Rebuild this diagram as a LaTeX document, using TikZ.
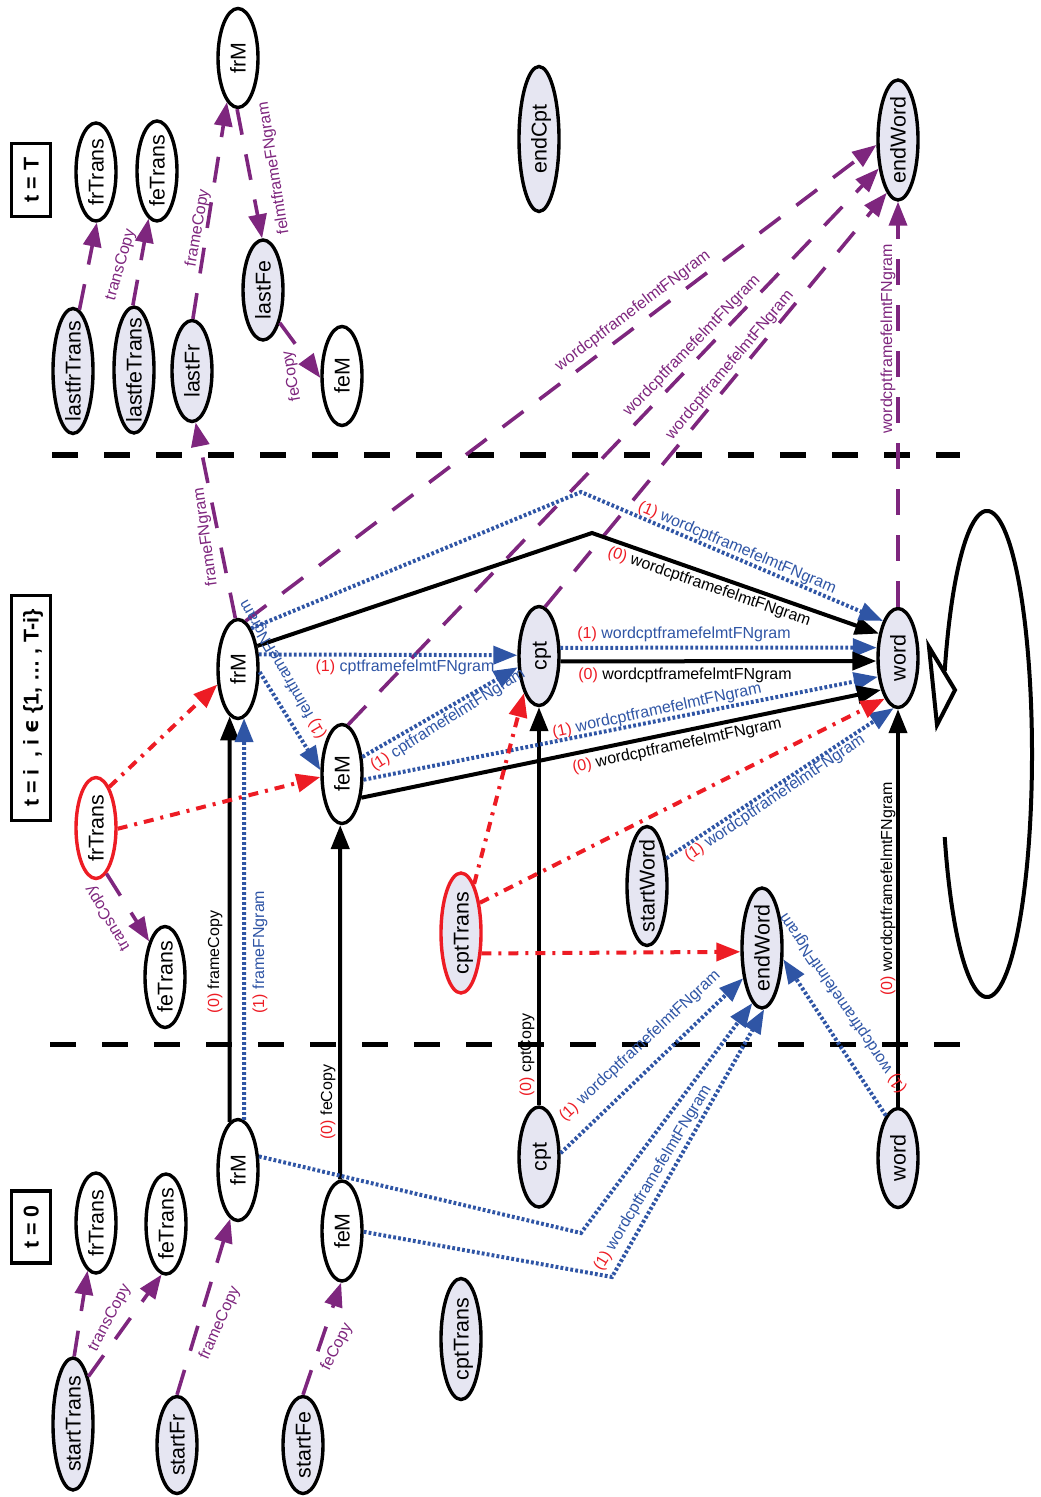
\documentclass[tikz,border=0pt]{standalone}
\usepackage{graphicx}
\usepackage{fontspec}
\setmainfont{Liberation Sans}
\newfontfamily\dejavu{DejaVu Sans}
\usetikzlibrary{shapes.geometric,arrows.meta}
\definecolor{cpur}{RGB}{126,38,126}
\definecolor{cblu}{RGB}{47,85,165}
\definecolor{cred}{RGB}{237,28,36}
\definecolor{ngray}{RGB}{230,230,242}
\newcommand\nodefont{\fontsize{10.7}{12}\selectfont}
\newcommand\lblfont{\fontsize{8}{9.6}\selectfont}
\newcommand\labone{\textcolor{cred}{(1)}}
\newcommand\labzero{\textcolor{cred}{(0)}}
\newcommand\rtext[1]{\rotatebox{90}{\makebox[0pt]{\smash{\raisebox{-0.36em}{#1}}}}}
\tikzset{
  nd/.style={ellipse, draw=black, line width=1.7pt, fill=white, inner sep=0pt, minimum width=20pt, font=\nodefont},
  gnd/.style={nd, fill=ngray},
  tbox/.style={rectangle, draw=black, line width=1.6pt, fill=white, inner sep=0pt, minimum width=19.5pt, font=\nodefont\bfseries},
  lbl/.style={inner sep=0pt, font=\lblfont},
  arrowtip/.style={-{Triangle[length=12pt,width=9pt]}},
  pur/.style={arrowtip, draw=cpur, line width=1.8pt, dash pattern=on 13pt off 10pt},
  blu/.style={arrowtip, draw=cblu, line width=2pt, dash pattern=on 1.4pt off 1.1pt},
  blk/.style={arrowtip, draw=black, line width=2pt},
  rdd/.style={arrowtip, draw=cred, line width=2pt, dash pattern=on 5pt off 3.5pt on 1.5pt off 3.5pt},
  sepline/.style={draw=black, line width=2.5pt, dash pattern=on 13pt off 13pt},
}
\begin{document}
\begin{tikzpicture}[x=0.5pt, y=0.5pt]
\useasboundingbox (0,0) rectangle (1040,-1497);

% ---------- separators ----------
\coordinate (s1a) at (52,-455);  \coordinate (s1b) at (960,-455);
\coordinate (s2a) at (50,-1044); \coordinate (s2b) at (960,-1044);
\draw[sepline] (s1a) -- (s1b);
\draw[sepline] (s2a) -- (s2b);

% ---------- t = T ----------
\node[tbox, minimum height=36.5pt] (Tbox) at (31,-180) {\rtext{t = T}};
\node[nd,  minimum height=49pt]   (TfrT) at (96,-172)  {\rtext{frTrans}};
\node[nd,  minimum height=50pt]   (TfeT) at (157,-171) {\rtext{feTrans}};
\node[gnd, minimum height=62.5pt] (TlfrT) at (73,-371) {\rtext{lastfrTrans}};
\node[gnd, minimum height=63pt]   (TlfeT) at (134,-370) {\rtext{lastfeTrans}};
\node[gnd, minimum height=50.5pt] (TlFr) at (192,-371) {\rtext{lastFr}};
\node[nd,  minimum height=49.5pt] (TfrM) at (238,-58)  {\rtext{frM}};
\node[gnd, minimum height=50pt]   (TlFe) at (263,-290) {\rtext{lastFe}};
\node[nd,  minimum height=49.5pt] (TfeM) at (342,-376) {\rtext{feM}};
\node[gnd, minimum height=72.5pt] (TeC)  at (539,-139) {\rtext{endCpt}};
\node[gnd, minimum height=60pt]   (TeW)  at (898,-140) {\rtext{endWord}};

% ---------- t = i ----------
\node[tbox, minimum height=112.5pt] (Mbox) at (31,-708) {\rtext{t = i~~, i {\dejavu\bfseries ϵ} \{1, … , T-i\}}};
\node[nd,  minimum height=49.5pt] (MfrM) at (238,-669) {\rtext{frM}};
\node[nd,  minimum height=49.5pt] (MfeM) at (342,-774) {\rtext{feM}};
\node[nd,  draw=cred, minimum height=50.5pt] (MfrT) at (96,-828) {\rtext{frTrans}};
\node[nd,  minimum height=50.5pt] (MfeT) at (165,-977) {\rtext{feTrans}};
\node[gnd, draw=cred, minimum height=60pt] (McT) at (461,-933) {\rtext{cptTrans}};
\node[gnd, minimum height=49.5pt] (Mcpt) at (539,-656) {\rtext{cpt}};
\node[gnd, minimum height=49.5pt] (Mword) at (898,-658) {\rtext{word}};
\node[gnd, minimum height=59.5pt] (MsW) at (647,-886) {\rtext{startWord}};
\node[gnd, minimum height=60pt]   (MeW) at (762,-948) {\rtext{endWord}};

% ---------- t = 0 ----------
\node[tbox, minimum height=36pt] (Bbox) at (31,-1227) {\rtext{t = 0}};
\node[nd,  minimum height=50pt]   (BfrT) at (96,-1223)  {\rtext{frTrans}};
\node[nd,  minimum height=50pt]   (BfeT) at (166,-1224) {\rtext{feTrans}};
\node[nd,  minimum height=50.5pt] (BfrM) at (238,-1170) {\rtext{frM}};
\node[nd,  minimum height=50pt]   (BfeM) at (342,-1231) {\rtext{feM}};
\node[gnd, minimum height=60.5pt] (BcT)  at (461,-1339) {\rtext{cptTrans}};
\node[gnd, minimum height=66pt]   (BsT)  at (73,-1424)  {\rtext{startTrans}};
\node[gnd, minimum height=48.5pt] (BsFr) at (177,-1445) {\rtext{startFr}};
\node[gnd, minimum height=48.5pt] (BsFe) at (303,-1445) {\rtext{startFe}};
\node[gnd, minimum height=50pt]   (Bcpt) at (539,-1157) {\rtext{cpt}};
\node[gnd, minimum height=49.5pt] (Bword) at (898,-1158) {\rtext{word}};

% ---------- bend points ----------
\coordinate (bendA) at (592,-533);
\coordinate (bendB) at (581,-492);
\coordinate (bendC) at (581,-1233);
\coordinate (bendD) at (612,-1277);

% ---------- top connectors ----------
\draw[pur] (TlfrT.84) -- (TfrT.-89);
\draw[pur] (TlfeT.91) -- (TfeT.-100);
\draw[pur] (TlFr.89) -- (TfrM.-104);
\draw[pur] (TfrM.-91) -- (TlFe.91);
\draw[pur] (TlFe.-63) -- (TfeM.185);
\draw[pur] (MfrM.93) -- (TlFr.-86);
\draw[pur] (MfrM.81) -- (TeW.193);
\draw[pur] (MfeM.83) -- (TeW.236);
\draw[pur] (Mcpt.83) -- (TeW.258);
\draw[pur] (Mword.north) -- (TeW.south);

% ---------- middle connectors ----------
\draw[blk] (BfrM.100) -- (MfrM.-100);
\draw[blu] (BfrM.83) -- (MfrM.-83);
\draw[blk] (BfeM.92) -- (MfeM.-92);
\draw[blk] (Bcpt.north) -- (Mcpt.south);
\draw[blk] (Bword.north) -- (Mword.south);
\draw[blu] (MfrM.35) -- (Mcpt.178);
\draw[blu] (MfrM.-8) -- (MfeM.170);
\draw[blu] (MfeM.40) -- (Mcpt.208);
\draw[blu] (MfeM.-15) -- (Mword.223);
\draw[blk] (MfeM.-51) -- (Mword.242);
\draw[blu] (Mcpt.21) -- (Mword.154);
\draw[blk] (Mcpt.-14) -- (Mword.188);
\draw[blk] (MfrM.50) -- (bendA) -- (Mword.128);
\draw[blu] (MfrM.72) -- (bendB) -- (Mword.112);
\draw[blu] (MsW.55) -- (Mword.265);
\draw[rdd] (McT.75) -- (Mcpt.248);
\draw[rdd] (McT.58) -- (Mword.252);
\draw[rdd] (McT.-45) -- (MeW.190);
\draw[blu] (Bword.106) -- (MeW.-28);
\draw[blu] (Bcpt.10) -- (MeW.238);
\draw[blu] (BfrM.33) -- (bendC) -- (MeW.260);
\draw[blu] (BfeM.-2) -- (bendD) -- (MeW.272);
\draw[rdd] (MfrT.72) -- (MfrM.217);
\draw[rdd] (MfrT.-2) -- (MfeM.188);
\draw[pur] (MfrT.-77) -- (MfeT.114);

% self loop on word
\coordinate (loopS) at (944.7,-837.1);
\draw[line width=2pt] (loopS) arc[start angle=200, end angle=520, x radius=22.5pt, y radius=121.5pt];
\coordinate (triA) at (929,-647);
\coordinate (triB) at (955,-690);
\coordinate (triC) at (937,-725);
\draw[line width=2pt, fill=white, line join=miter] (triA) -- (triB) -- (triC) -- cycle;

% ---------- bottom connectors ----------
\draw[pur] (BsT.89) -- (BfrT.-100);
\draw[pur] (BsT.72) -- (BfeT.-95);
\draw[pur] (BsFr.90) -- (BfrM.-99);
\draw[pur] (BsFe.90) -- (BfeM.-91);

% ---------- labels: top ----------
\node[lbl, text=cpur, rotate=74]  (lT1) at (121,-265) {transCopy};
\node[lbl, text=cpur, rotate=80]  (lT3) at (198,-228) {frameCopy};
\node[lbl, text=cpur, rotate=99]  (lT4) at (274,-168) {felmtframeFNgram};
\node[lbl, text=cpur, rotate=100] (lT5) at (292,-376) {feCopy};
\node[lbl, text=cpur, rotate=37]  (lT6) at (633,-311) {wordcptframefelmtFNgram};
\node[lbl, text=cpur, rotate=46]  (lT7) at (692,-346) {wordcptframefelmtFNgram};
\node[lbl, text=cpur, rotate=50]  (lT8) at (730,-365) {wordcptframefelmtFNgram};
\node[lbl, text=cpur, rotate=90]  (lT9) at (888,-339) {wordcptframefelmtFNgram};
\node[lbl, text=cpur, rotate=98]  (lTf) at (206,-537) {frameFNgram};

% ---------- labels: middle ----------
\node[lbl, text=black, rotate=90] (lM1) at (215,-962) {\labzero{} frameCopy};
\node[lbl, text=cblu, rotate=90]  (lM2) at (260,-952) {\labone{} frameFNgram};
\node[lbl, text=black, rotate=90] (lM3) at (328,-1102) {\labzero{} feCopy};
\node[lbl, text=black, rotate=90] (lM4) at (527,-1055) {\labzero{} cptCopy};
\node[lbl, text=black, rotate=90] (lM5) at (888,-889) {\labzero{} wordcptframefelmtFNgram};
\node[lbl, text=cblu]             (lM6) at (405,-667) {\labone{} cptframefelmtFNgram};
\node[lbl, text=cblu, rotate=120] (lM7) at (283,-669) {\labone{} felmtframeFNgram};
\node[lbl, text=cblu, rotate=32]  (lM8) at (448,-720) {\labone{} cptframefelmtFNgram};
\node[lbl, text=cblu, rotate=12]  (lM9) at (657,-711) {\labone{} wordcptframefelmtFNgram};
\node[lbl, text=black, rotate=12] (lM10) at (677,-746) {\labzero{} wordcptframefelmtFNgram};
\node[lbl, text=cblu]             (lM11) at (684,-634) {\labone{} wordcptframefelmtFNgram};
\node[lbl, text=black]            (lM12) at (685,-675) {\labzero{} wordcptframefelmtFNgram};
\node[lbl, text=black, rotate=-19] (lM13) at (709,-587) {\labzero{} wordcptframefelmtFNgram};
\node[lbl, text=cblu, rotate=-23]  (lM14) at (737,-548) {\labone{} wordcptframefelmtFNgram};
\node[lbl, text=cblu, rotate=34]   (lM15) at (775,-798) {\labone{} wordcptframefelmtFNgram};
\node[lbl, text=cblu, rotate=124]  (lM19) at (843,-1003) {\labone{} wordcptframefelmtFNgram};
\node[lbl, text=cblu, rotate=43]   (lM20) at (640,-1046) {\labone{} wordcptframefelmtFNgram};
\node[lbl, text=cblu, rotate=59]   (lM21) at (653,-1178) {\labone{} wordcptframefelmtFNgram};
\node[lbl, text=cpur, rotate=121]  (lMR3) at (108,-918) {transCopy};

% ---------- labels: bottom ----------
\node[lbl, text=cpur, rotate=62] (lB12) at (110,-1318) {transCopy};
\node[lbl, text=cpur, rotate=66] (lB3)  at (220,-1323) {frameCopy};
\node[lbl, text=cpur, rotate=63] (lB4)  at (337,-1347) {feCopy};
\end{tikzpicture}
\end{document}
